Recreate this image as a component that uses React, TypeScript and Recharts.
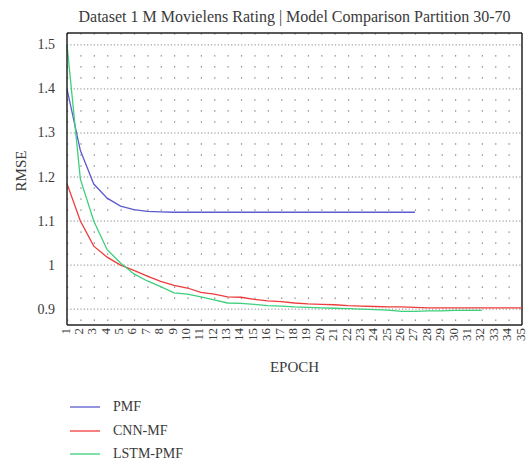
import { LineChart, Line, XAxis, YAxis, Legend, ReferenceLine, Label } from 'recharts';

const epochs = [1, 2, 3, 4, 5, 6, 7, 8, 9, 10, 11, 12, 13, 14, 15, 16, 17, 18, 19, 20, 21, 22, 23, 24, 25, 26, 27, 28, 29, 30, 31, 32, 33, 34, 35];

const pmf = [1.4, 1.26, 1.184, 1.152, 1.134, 1.126, 1.122, 1.121, 1.12, 1.12, 1.12, 1.12, 1.12, 1.12, 1.12, 1.12, 1.12, 1.12, 1.12, 1.12, 1.12, 1.12, 1.12, 1.12, 1.12, 1.12, 1.12];
const cnnMf = [1.185, 1.1, 1.043, 1.018, 1.0, 0.988, 0.975, 0.963, 0.954, 0.948, 0.938, 0.934, 0.928, 0.927, 0.922, 0.919, 0.917, 0.914, 0.912, 0.911, 0.91, 0.908, 0.907, 0.906, 0.905, 0.905, 0.904, 0.903, 0.903, 0.903, 0.903, 0.903, 0.903, 0.903, 0.903];
const lstmPmf = [1.5, 1.195, 1.1, 1.035, 1.005, 0.98, 0.964, 0.951, 0.937, 0.934, 0.928, 0.921, 0.914, 0.913, 0.911, 0.908, 0.907, 0.905, 0.904, 0.903, 0.902, 0.901, 0.9, 0.899, 0.898, 0.895, 0.895, 0.896, 0.896, 0.897, 0.897, 0.897];

const yTicks = [0.9, 1, 1.1, 1.2, 1.3, 1.4, 1.5];
const minorRows = [0.875, 0.925, 0.95, 0.975, 1.025, 1.05, 1.075, 1.125, 1.15, 1.175, 1.225, 1.25, 1.275, 1.325, 1.35, 1.375, 1.425, 1.45, 1.475, 1.525];

const series = [
  { key: 'pmf', name: 'PMF', color: '#5b5bcf' },
  { key: 'cnn', name: 'CNN-MF', color: '#ee3b3b' },
  { key: 'lstm', name: 'LSTM-PMF', color: '#3ccf7c' },
];

const data = epochs.map((epoch, i) => ({
  epoch,
  pmf: pmf[i] ?? null,
  cnn: cnnMf[i] ?? null,
  lstm: lstmPmf[i] ?? null,
}));

const FONT = '"Liberation Serif", serif';
const TEXT = '#3a3a3a';
const Y_MIN = 0.864;
const Y_MAX = 1.527;

// epoch labels run bottom-to-top, ending just under the axis
const XTick = ({ x, y, payload }: any) => {
  const tx = x - 2;
  return (
    <text x={tx} y={y} transform={`rotate(-90 ${tx} ${y})`} textAnchor="end" dominantBaseline="central"
      fontFamily={FONT} fontSize={13} fill={TEXT}>
      {payload.value}
    </text>
  );
};

const YTick = ({ x, y, payload }: any) => (
  <text x={x} y={y} textAnchor="end" dominantBaseline="central" fontFamily={FONT} fontSize={14} fill={TEXT}>
    {payload.value}
  </text>
);

const renderLegend = () => (
  <div style={{ height: 86, position: 'relative', fontFamily: FONT, fontSize: 14, color: TEXT }}>
    {series.map((s, i) => (
      <div key={s.key} style={{ position: 'absolute', left: 70, top: 23 + i * 23.5, height: 18, display: 'flex', alignItems: 'center' }}>
        <svg width={30} height={4}>
          <line x1={0} y1={2} x2={30} y2={2} stroke={s.color} strokeWidth={1.3} />
        </svg>
        <span style={{ marginLeft: 13 }}>{s.name}</span>
      </div>
    ))}
  </div>
);

export default function App() {
  return (
    <div style={{ position: 'absolute', left: 0, top: 0, width: 527, height: 461, background: '#fff' }}>
      <div style={{ position: 'absolute', left: 67, top: 7, width: 455, textAlign: 'center', fontFamily: FONT, fontSize: 16, color: TEXT, lineHeight: '19px' }}>
        Dataset 1 M Movielens Rating | Model Comparison Partition 30-70
      </div>
      <LineChart width={527} height={461} data={data} margin={{ top: 33, right: 5, bottom: 0, left: 0 }}>
        <XAxis dataKey="epoch" type="number" domain={[1, 35]} ticks={epochs} interval={0}
          tick={<XTick />} tickLine={false} axisLine={{ stroke: '#222', strokeWidth: 1.5 }} tickSize={0} tickMargin={3} height={50}>
          <Label content={({ viewBox }: any) => (
            <text x={viewBox.x + viewBox.width / 2} y={viewBox.y + 47} textAnchor="middle" fontFamily={FONT} fontSize={15} fill={TEXT}>EPOCH</text>
          )} />
        </XAxis>
        <YAxis type="number" domain={[Y_MIN, Y_MAX]} ticks={yTicks} allowDataOverflow
          tick={<YTick />} tickLine={false} axisLine={{ stroke: '#222', strokeWidth: 1.5 }} tickSize={0} tickMargin={12} width={67}>
          <Label content={({ viewBox }: any) => {
            const cx = viewBox.x + 21;
            const cy = viewBox.y + viewBox.height / 2 - 8;
            return (
              <text x={cx} y={cy} transform={`rotate(-90 ${cx} ${cy})`} textAnchor="middle" dominantBaseline="central" fontFamily={FONT} fontSize={15} fill={TEXT}>RMSE</text>
            );
          }} />
        </YAxis>
        {minorRows.map((v) => (
          <ReferenceLine key={`m${v}`} y={v} stroke="#555" strokeWidth={1} strokeDasharray="1.2 12.18" />
        ))}
        {yTicks.map((v) => (
          <ReferenceLine key={`M${v}`} y={v} stroke="#888" strokeWidth={1} strokeDasharray="1.2 2.15" />
        ))}
        <ReferenceLine y={Y_MAX} stroke="#222" strokeWidth={1.5} />
        <ReferenceLine x={35} stroke="#222" strokeWidth={1.5} />
        {series.map((s) => (
          <Line key={s.key} type="linear" dataKey={s.key} name={s.name} stroke={s.color} strokeWidth={1.3} dot={false} isAnimationActive={false} />
        ))}
        <Legend verticalAlign="bottom" align="left" layout="horizontal" content={renderLegend} />
      </LineChart>
    </div>
  );
}
